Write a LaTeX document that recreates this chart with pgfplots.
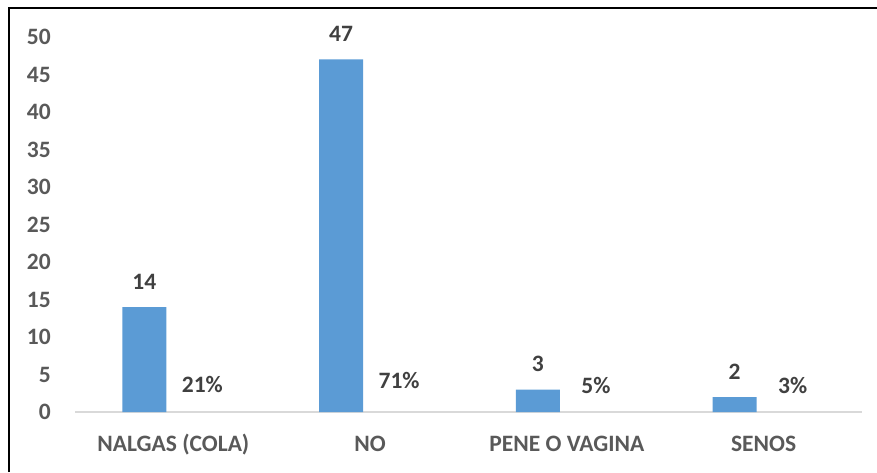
\documentclass[border=0pt]{standalone}
\usepackage{fontspec}
\setmainfont{Carlito}
\usepackage{pgfplots}
\pgfplotsset{compat=1.18}

\definecolor{barblue}{HTML}{5B9BD5}
\definecolor{ticktext}{HTML}{595959}
\definecolor{labeltext}{HTML}{404040}
\definecolor{axisgray}{HTML}{D9D9D9}

\begin{document}
\begin{tikzpicture}[x=1pt,y=1pt]
    \path[use as bounding box] (0,0) rectangle (877,472);
    % frame (only top and left edges visible)
    \draw[black, line width=2pt] (9,0) -- (9,464) -- (877,464);
    \begin{axis}[
        at={(75pt,60pt)}, anchor=south west,
        scale only axis,
        width=787pt, height=375pt,
        xmin=-0.5, xmax=3.5,
        ymin=0, ymax=50,
        axis lines=left,
        axis line style={-},
        y axis line style={draw=none},
        x axis line style={draw=axisgray, line width=1.5pt},
        major tick length=0pt,
        ytick={0,5,...,50},
        xtick={0,1,2,3},
        xticklabels={NALGAS (COLA), NO, PENE O VAGINA, SENOS},
        /pgf/number format/assume math mode=true,
        ticklabel style={font=\fontsize{23.5}{28}\selectfont\bfseries, text=ticktext},
        yticklabel style={anchor=east, inner sep=0pt, xshift=-24pt},
        xticklabel style={anchor=base, inner sep=0pt, yshift=-39pt},
        ybar,
        bar width=44pt,
        nodes near coords,
        every node near coord/.append style={
            font=\fontsize{23.5}{28}\selectfont\bfseries, text=labeltext,
            anchor=base, inner sep=0pt, yshift=18pt},
        clip=false,
    ]
        % counts
        \addplot[fill=barblue, draw=none, bar shift=-29pt] coordinates {
            (0,14) (1,47) (2,3) (3,2)
        };
        % shares (bars too small to show)
        \addplot[fill=none, draw=none, bar shift=29pt,
            point meta=explicit symbolic] coordinates {
            (0,0.21) [21\%] (1,0.71) [71\%] (2,0.05) [5\%] (3,0.03) [3\%]
        };
    \end{axis}
\end{tikzpicture}
\end{document}
